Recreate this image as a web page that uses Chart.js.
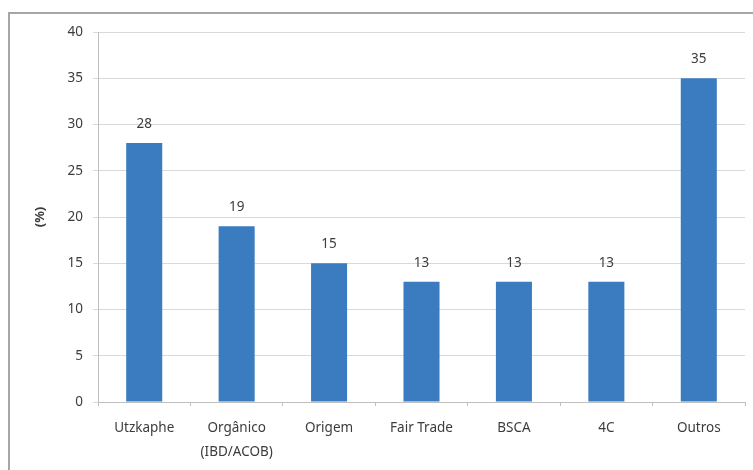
<!DOCTYPE html>
<html>
<head>
<meta charset="utf-8">
<script src="https://cdn.jsdelivr.net/npm/chart.js@4/dist/chart.umd.min.js"></script>
<style>
  html, body { margin: 0; padding: 0; background: #fff; }
  #wrap { position: relative; width: 753px; height: 470px; }
  #frame {
    position: absolute; left: 8px; top: 12px; width: 760px; height: 470px;
    border-left: 2px solid #a6a6a6; border-top: 2px solid #a6a6a6;
    pointer-events: none;
  }
</style>
</head>
<body>
<div id="wrap">
  <canvas id="chart" width="753" height="470"></canvas>
  <div id="frame"></div>
</div>
<script>
// chart data
const categories = ['Utzkaphe', ['Orgânico', '(IBD/ACOB)'], 'Origem', 'Fair Trade', 'BSCA', '4C', 'Outros'];
const values = [28, 19, 15, 13, 13, 13, 35];
const yTicks = [0, 5, 10, 15, 20, 25, 30, 35, 40];
const yTitle = '(%)';

const textColor = '#3c3c3c';
const fontFamily = "'Noto Sans', 'DejaVu Sans', sans-serif";

// value labels above each bar
const barLabels = {
    id: 'barLabels',
    afterDatasetsDraw(chart) {
        const ctx = chart.ctx;
        const meta = chart.getDatasetMeta(0);
        ctx.save();
        ctx.font = '13.5px ' + fontFamily;
        ctx.fillStyle = textColor;
        ctx.textAlign = 'center';
        ctx.textBaseline = 'middle';
        meta.data.forEach((bar, i) => {
            ctx.fillText(String(values[i]), bar.x, bar.y - 19);
        });
        ctx.restore();
    }
};

new Chart(document.getElementById('chart'), {
    type: 'bar',
    data: {
        labels: categories,
        datasets: [{
            data: values,
            backgroundColor: '#3b7cc0',
            borderWidth: 0,
            barPercentage: 0.39,
            categoryPercentage: 1
        }]
    },
    options: {
        responsive: false,
        animation: false,
        layout: { padding: { left: 0, top: 32, right: 8, bottom: 0 } },
        plugins: {
            legend: { display: false },
            tooltip: { enabled: false }
        },
        scales: {
            x: {
                grid: { drawOnChartArea: false, drawTicks: true, tickLength: 4, color: '#bfbfbf', offset: true },
                border: { display: true, color: '#bfbfbf' },
                ticks: {
                    color: textColor,
                    font: { family: fontFamily, size: 13.5, lineHeight: 1.8 },
                    padding: 10,
                    maxRotation: 0,
                    autoSkip: false
                },
                afterFit(scale) { scale.height = 68; }
            },
            y: {
                min: 0,
                max: 40,
                afterBuildTicks(scale) { scale.ticks = yTicks.map(v => ({ value: v })); },
                grid: { color: '#d9d9d9', drawTicks: true, tickLength: 5 },
                border: { display: true, color: '#bfbfbf' },
                ticks: {
                    color: textColor,
                    font: { family: fontFamily, size: 13.5 },
                    padding: 10
                },
                title: {
                    display: true,
                    text: yTitle,
                    color: textColor,
                    font: { family: fontFamily, size: 13, weight: 'bold' },
                    padding: { top: 32, bottom: 0 }
                },
                afterFit(scale) { scale.width = 98; }
            }
        }
    },
    plugins: [barLabels]
});
</script>
</body>
</html>
